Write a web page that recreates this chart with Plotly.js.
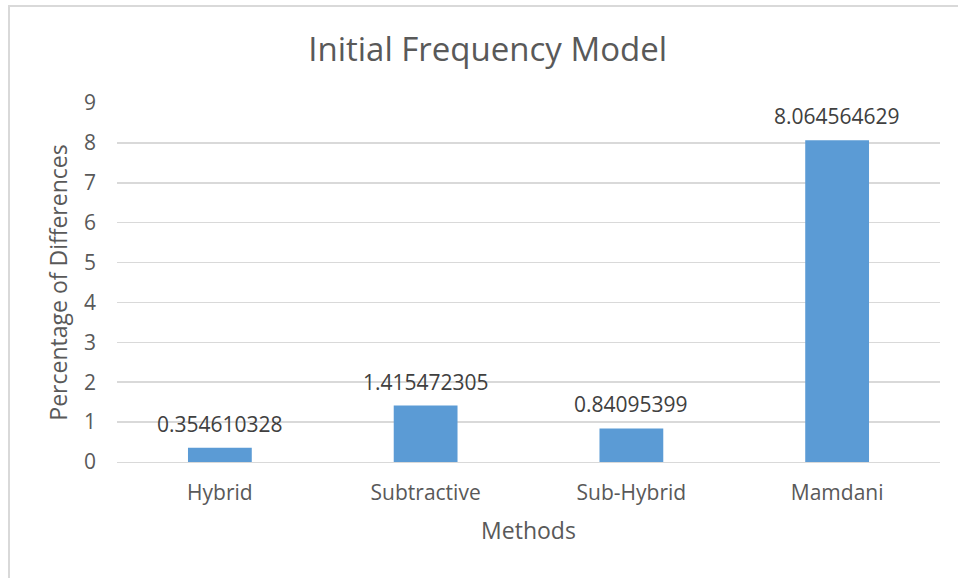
<!DOCTYPE html>
<html>
<head>
<meta charset="utf-8">
<script src="https://cdn.plot.ly/plotly-3.0.1.min.js"></script>
<style>
html,body{margin:0;padding:0;background:#fff;}
#wrap{position:relative;width:958px;height:578px;}
#chart{position:absolute;left:0;top:0;width:958px;height:578px;}
#frame{position:absolute;left:8px;top:5px;width:960px;height:600px;border-left:2px solid #d9d9d9;border-top:2px solid #d9d9d9;pointer-events:none;}
</style>
</head>
<body>
<div id="wrap"><div id="chart"></div><div id="frame"></div></div>
<script>
const categories = ["Hybrid", "Subtractive", "Sub-Hybrid", "Mamdani"];
const values = [0.354610328, 1.415472305, 0.84095399, 8.064564629];
const labels = ["0.354610328", "1.415472305", "0.84095399", "8.064564629"];
const yTicks = [0, 1, 2, 3, 4, 5, 6, 7, 8, 9];

const font = "'Open Sans', 'Noto Sans', sans-serif";

const annotations = categories.map((c, i) => ({
  x: c, y: values[i], xref: "x", yref: "y",
  text: labels[i], showarrow: false,
  yanchor: "bottom", yshift: 8,
  font: {family: font, size: 21, color: "#404040"}
}));

Plotly.newPlot("chart", [{
  type: "bar",
  x: categories,
  y: values,
  marker: {color: "#5B9BD5"},
  hoverinfo: "x+y"
}], {
  width: 958, height: 578,
  margin: {l: 117, r: 18, t: 103, b: 116},
  paper_bgcolor: "#ffffff",
  plot_bgcolor: "#ffffff",
  bargap: 0.69,
  showlegend: false,
  annotations: annotations,
  font: {family: font, color: "#595959"},
  title: {text: "Initial Frequency Model", font: {family: font, size: 33, color: "#595959"}, x: 0.509, xanchor: "center", y: 0.915, yanchor: "middle"},
  xaxis: {
    type: "category",
    tickfont: {family: font, size: 21, color: "#595959"},
    showgrid: false, zeroline: false,
    showline: true, linecolor: "#d9d9d9", linewidth: 1,
    ticks: "", ticklabelstandoff: 12,
    title: {text: "Methods", font: {family: font, size: 23, color: "#595959"}, standoff: 17}
  },
  yaxis: {
    range: [0, 9],
    tickvals: yTicks,
    ticktext: yTicks.map(String),
    tickfont: {family: font, size: 21, color: "#595959"},
    showgrid: true, gridcolor: "#d9d9d9", gridwidth: 1.5,
    zeroline: false, showline: false,
    ticks: "", ticklabelstandoff: 20,
    title: {text: "Percentage of Differences", font: {family: font, size: 23, color: "#595959"}, standoff: 9}
  }
}, {displayModeBar: false, staticPlot: true});
</script>
</body>
</html>
